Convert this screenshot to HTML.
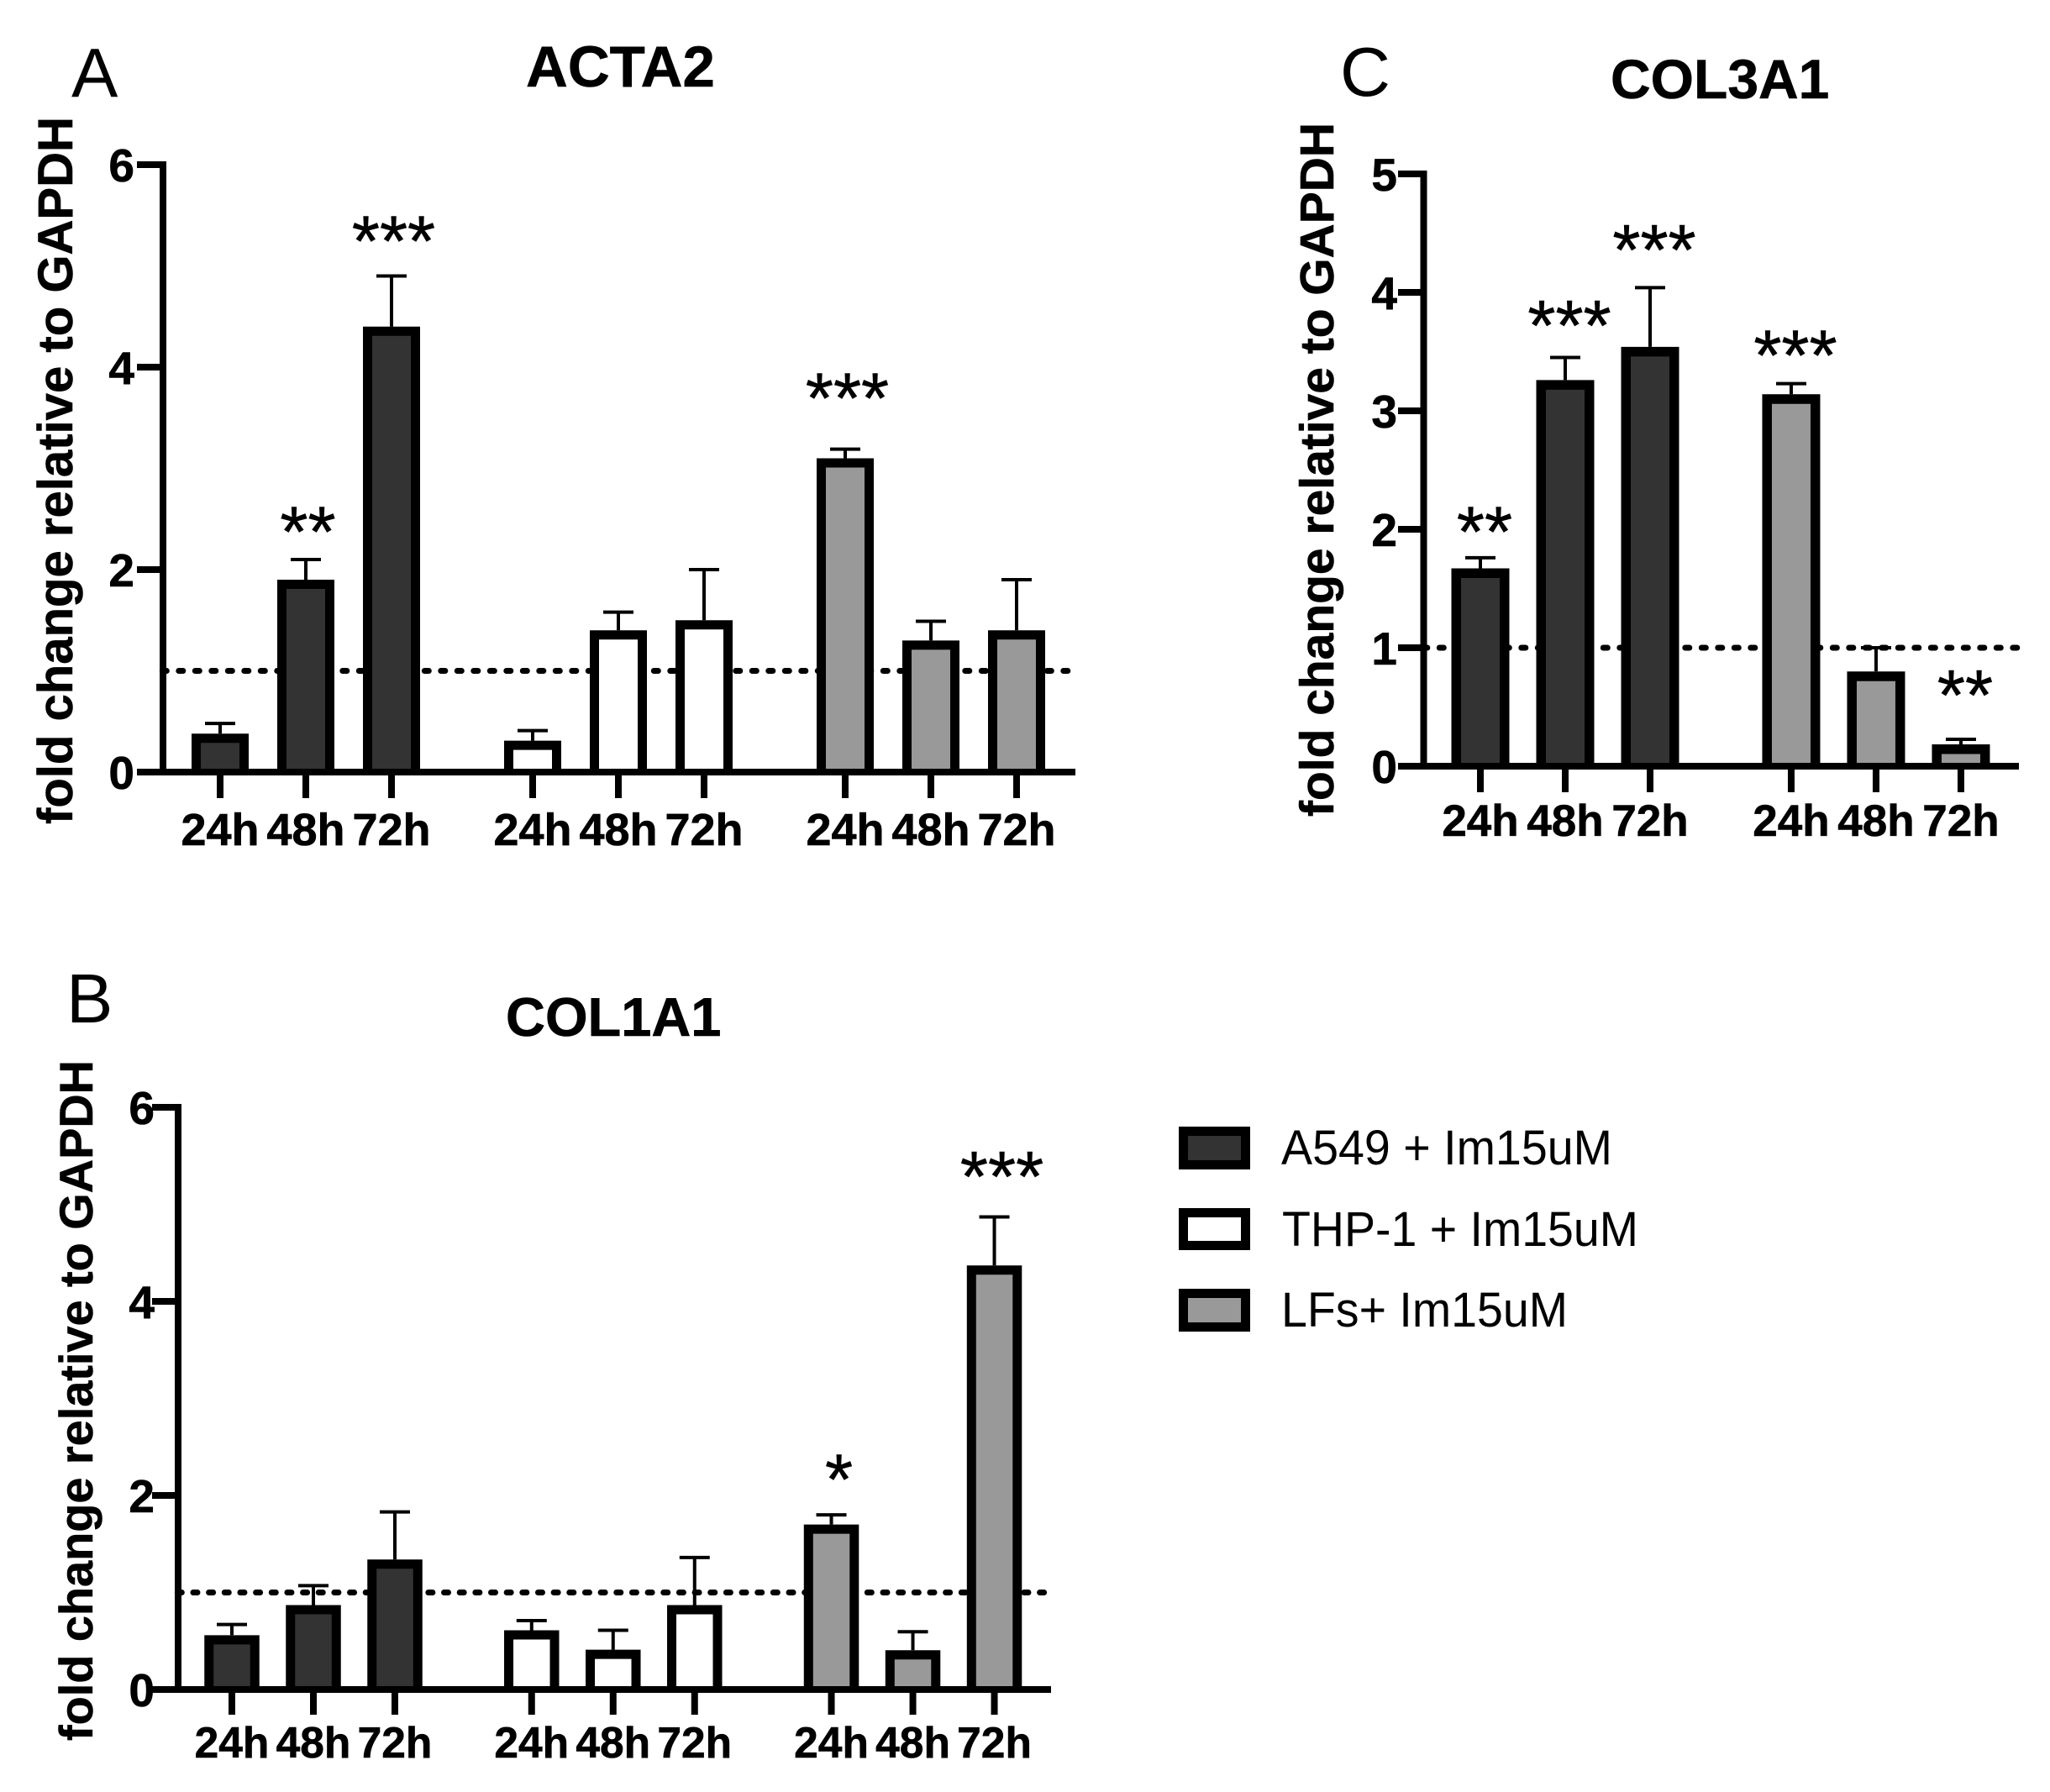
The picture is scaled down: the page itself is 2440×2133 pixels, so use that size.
<!DOCTYPE html>
<html lang="en">
<head>
<meta charset="utf-8">
<title>Fold change of ACTA2, COL1A1 and COL3A1 relative to GAPDH</title>
<style>
  html, body { margin: 0; padding: 0; background: #fff; }
  svg { display: block; font-family: "Liberation Sans", Arial, sans-serif; }
  text { fill: #000; }
  text.heavy { stroke: #000; stroke-width: 0.6px; }
</style>
</head>
<body>
<svg id="figure" xmlns="http://www.w3.org/2000/svg" width="2440" height="2133" viewBox="0 0 2440 2133">
  <rect x="0" y="0" width="2440" height="2133" fill="#ffffff"/>
  <g id="legend">
    <rect x="1408.5" y="1346.5" width="74" height="40" fill="#333333" stroke="#000" stroke-width="11"/>
    <text x="1525" y="1386" font-size="58" textLength="394" lengthAdjust="spacingAndGlyphs">A549 + Im15uM</text>
    <rect x="1408.5" y="1443.5" width="74" height="39" fill="#ffffff" stroke="#000" stroke-width="11"/>
    <text x="1526" y="1483" font-size="58" textLength="424" lengthAdjust="spacingAndGlyphs">THP-1 + Im15uM</text>
    <rect x="1408.5" y="1539.5" width="74" height="40" fill="#999999" stroke="#000" stroke-width="11"/>
    <text x="1525" y="1579" font-size="58" textLength="341" lengthAdjust="spacingAndGlyphs">LFs+ Im15uM</text>
  </g>
</svg>
<script>
// ---- shared data ----
const groupFills = { 'A549': '#333333', 'THP-1': '#ffffff', 'LFs': '#999999' };

// ---- ACTA2 ----
const acta2Categories = ['24h', '48h', '72h', '24h', '48h', '72h', '24h', '48h', '72h'];
const acta2Groups = ['A549', 'A549', 'A549', 'THP-1', 'THP-1', 'THP-1', 'LFs', 'LFs', 'LFs'];
const acta2Values = [0.38, 1.90, 4.40, 0.31, 1.40, 1.50, 3.10, 1.30, 1.40];
const acta2ErrorTops = [0.48, 2.10, 4.90, 0.41, 1.58, 2.00, 3.19, 1.49, 1.90];
const acta2Stars = ['', '**', '***', '', '', '', '***', '', ''];
const acta2StarLevels = [null, 2.13, 5.00, null, null, null, 3.45, null, null];
const acta2YTicks = [0, 2, 4, 6];

// ---- COL1A1 ----
const col1a1Categories = ['24h', '48h', '72h', '24h', '48h', '72h', '24h', '48h', '72h'];
const col1a1Groups = ['A549', 'A549', 'A549', 'THP-1', 'THP-1', 'THP-1', 'LFs', 'LFs', 'LFs'];
const col1a1Values = [0.56, 0.87, 1.34, 0.61, 0.41, 0.87, 1.70, 0.405, 4.37];
const col1a1ErrorTops = [0.67, 1.07, 1.83, 0.71, 0.61, 1.36, 1.80, 0.595, 4.87];
const col1a1Stars = ['', '', '', '', '', '', '*', '', '***'];
const col1a1StarLevels = [null, null, null, null, null, null, 1.91, null, 5.03];
const col1a1YTicks = [0, 2, 4, 6];

// ---- COL3A1 ----
const col3a1Categories = ['24h', '48h', '72h', '24h', '48h', '72h'];
const col3a1Groups = ['A549', 'A549', 'A549', 'LFs', 'LFs', 'LFs'];
const col3a1Values = [1.67, 3.26, 3.54, 3.14, 0.80, 0.184];
const col3a1ErrorTops = [1.76, 3.45, 4.04, 3.23, 1.00, 0.227];
const col3a1Stars = ['**', '***', '***', '***', '', '**'];
const col3a1StarLevels = [1.77, 3.51, 4.15, 3.26, null, 0.39];
const col3a1YTicks = [0, 1, 2, 3, 4, 5];

const referenceLevel = 1;

const SVG_NS = 'http://www.w3.org/2000/svg';
const figure = document.getElementById('figure');

function mk(tag, attrs, parent) {
  const el = document.createElementNS(SVG_NS, tag);
  for (const k in attrs) el.setAttribute(k, attrs[k]);
  parent.appendChild(el);
  return el;
}

function drawPanel(p) {
  const g = mk('g', {}, figure);
  
  

  const yMax = p.yTicks[p.yTicks.length - 1];
  const yScale = v => p.yZero - (p.yZero - p.yTop) * v / yMax;
  const xScale = i => {
    let groupsSeen = 0;
    for (let k = 1; k <= i; k++) if (p.groups[k] !== p.groups[k - 1]) groupsSeen++;
    return p.x0 + p.step * (i + p.gap * groupsSeen);
  };

  // panel letter and title
  const letter = mk('text', { x: p.letterX, y: p.letterY, 'font-size': 83 }, g);
  
  
  letter.textContent = p.letter;

  const title = mk('text', { x: p.titleX, y: p.titleY, 'font-size': p.titleSize, 'font-weight': 'bold', class: 'heavy' }, g);
  
  
  title.textContent = p.title;

  // y axis title
  const yTitle = mk('text', {
    x: 0, y: 0, 'font-size': p.yTitleSize, 'font-weight': 'bold', class: 'heavy',
    textLength: p.yTitleLen, lengthAdjust: 'spacingAndGlyphs',
    transform: 'translate(' + p.yTitleX + ' ' + p.yTitleY + ') rotate(-90)'
  }, g);
  
  
  yTitle.textContent = 'fold change relative to GAPDH';

  // reference dotted line (behind bars)
  const refY = yScale(referenceLevel);
  const ref = mk('line', {
    x1: p.axisX - 0.7, y1: refY, x2: p.dotEnd - 3.5, y2: refY, stroke: '#000', 'stroke-width': 7,
    'stroke-linecap': 'round', 'stroke-dasharray': '5 ' + (p.dotPeriod - 5)
  }, g);
  
  

  // bars + error bars
  const halfW = p.barWidth / 2;
  const sw = p.barStroke;
  p.values.forEach((v, i) => {
    const cx = xScale(i);
    const stem = mk('line', { x1: cx, x2: cx, y1: yScale(p.errorTops[i]), y2: yScale(v), stroke: '#000', 'stroke-width': 4 }, g);
    
    

    const cap = mk('line', { x1: cx - 18, x2: cx + 18, y1: yScale(p.errorTops[i]), y2: yScale(p.errorTops[i]), stroke: '#000', 'stroke-width': 4 }, g);
    
    

    // three-sided outline: the bottom edge sits on the x axis
    const left = cx - halfW + sw / 2;
    const right = cx + halfW - sw / 2;
    const top = yScale(v) + sw / 2;
    const bar = mk('path', {
      d: 'M' + left + ' ' + p.yZero + 'V' + top + 'H' + right + 'V' + p.yZero,
      fill: groupFills[p.groups[i]], stroke: '#000', 'stroke-width': sw, 'stroke-linejoin': 'miter'
    }, g);
    
    

    if (p.stars[i]) {
      const star = mk('text', {
        x: cx + p.starShift, y: yScale(p.starLevels[i]), 'font-size': 85, 'text-anchor': 'middle', class: 'heavy'
      }, g);
      
      
      star.textContent = p.stars[i];
    }
  });

  // axes
  const yAxis = mk('line', { x1: p.axisX, x2: p.axisX, y1: p.yTop - 4, y2: p.yZero, stroke: '#000', 'stroke-width': 8 }, g);
  
  

  const xAxis = mk('line', { x1: p.tickLeft, x2: p.axisEnd, y1: p.yZero, y2: p.yZero, stroke: '#000', 'stroke-width': 8 }, g);
  
  

  p.yTicks.forEach(t => {
    const y = yScale(t);
    const tick = mk('line', { x1: p.tickLeft, x2: p.axisX, y1: y, y2: y, stroke: '#000', 'stroke-width': 8 }, g);
    
    

    const lab = mk('text', { x: p.yLabelX, y: y + 20, 'font-size': 55, 'font-weight': 'bold', 'text-anchor': 'end', class: 'heavy' }, g);
    
    
    lab.textContent = t;
  });

  p.categories.forEach((c, i) => {
    const cx = xScale(i);
    const tick = mk('line', { x1: cx, x2: cx, y1: p.yZero, y2: p.tickBottom, stroke: '#000', 'stroke-width': 8 }, g);
    
    

    const lab = mk('text', { x: cx, y: p.xLabelY, 'font-size': p.xLabelSize, 'font-weight': 'bold', 'text-anchor': 'middle', class: 'heavy' }, g);
    
    
    lab.textContent = c;
  });
}

drawPanel({
  key: 'acta2', letter: 'A', title: 'ACTA2',
  categories: acta2Categories, groups: acta2Groups, values: acta2Values, errorTops: acta2ErrorTops,
  stars: acta2Stars, starLevels: acta2StarLevels, yTicks: acta2YTicks,
  x0: 262, step: 102, gap: 0.647, yZero: 919, yTop: 196, axisX: 194, tickLeft: 163, axisEnd: 1280, dotEnd: 1275, dotPeriod: 19.5,
  tickBottom: 950, barWidth: 68, barStroke: 11, starShift: 2.5, yLabelX: 160, xLabelY: 1006, xLabelSize: 54,
  letterX: 85, letterY: 115, titleX: 626, titleY: 103, titleSize: 69,
  yTitleX: 86, yTitleY: 981, yTitleSize: 58, yTitleLen: 842
});

drawPanel({
  key: 'col1a1', letter: 'B', title: 'COL1A1',
  categories: col1a1Categories, groups: col1a1Groups, values: col1a1Values, errorTops: col1a1ErrorTops,
  stars: col1a1Stars, starLevels: col1a1StarLevels, yTicks: col1a1YTicks,
  x0: 276, step: 97, gap: 0.678, yZero: 2011, yTop: 1318, axisX: 212, tickLeft: 181, axisEnd: 1251, dotEnd: 1247, dotPeriod: 18.66,
  tickBottom: 2041, barWidth: 65.5, barStroke: 11, starShift: 9, yLabelX: 184, xLabelY: 2092, xLabelSize: 51.5,
  letterX: 79, letterY: 1217, titleX: 602, titleY: 1233, titleSize: 65,
  yTitleX: 110, yTitleY: 2072, yTitleSize: 56, yTitleLen: 810
});

drawPanel({
  key: 'col3a1', letter: 'C', title: 'COL3A1',
  categories: col3a1Categories, groups: col3a1Groups, values: col3a1Values, errorTops: col3a1ErrorTops,
  stars: col3a1Stars, starLevels: col3a1StarLevels, yTicks: col3a1YTicks,
  x0: 1762, step: 101, gap: 0.663, yZero: 912, yTop: 207, axisX: 1694.5, tickLeft: 1664, axisEnd: 2403, dotEnd: 2406, dotPeriod: 19.5,
  tickBottom: 943, barWidth: 69, barStroke: 11.5, starShift: 5, yLabelX: 1663, xLabelY: 995, xLabelSize: 53,
  letterX: 1595, letterY: 114, titleX: 1917, titleY: 117, titleSize: 66,
  yTitleX: 1587, yTitleY: 972, yTitleSize: 57, yTitleLen: 826
});
</script>
</body>
</html>
